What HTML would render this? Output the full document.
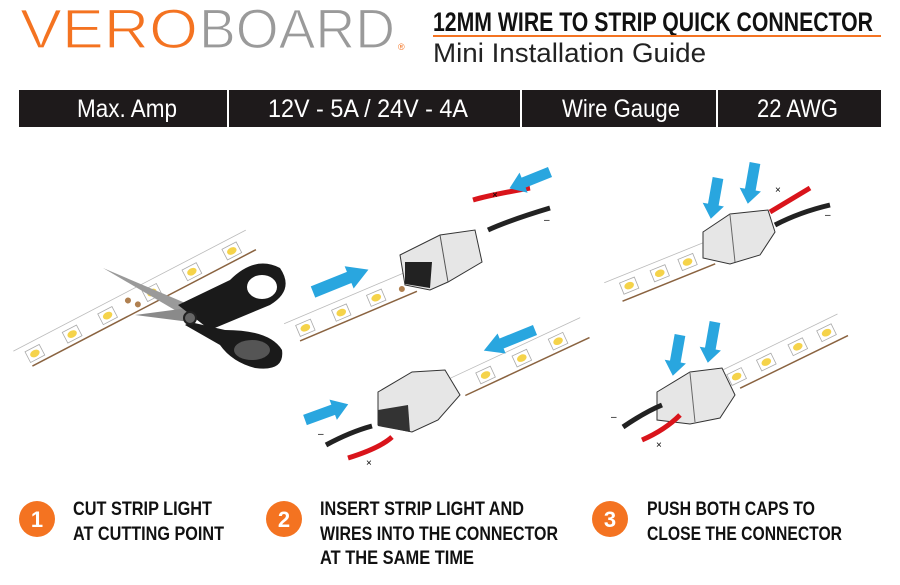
<!DOCTYPE html>
<html><head><meta charset="utf-8"><style>
html,body{margin:0;padding:0;background:#fff;}
svg{display:block}
.n{font-family:"Liberation Sans",sans-serif;}
</style></head><body>
<svg width="900" height="585" viewBox="0 0 900 585" xmlns="http://www.w3.org/2000/svg">
<defs>
<g id="led"><rect x="-8" y="-6" width="16" height="12" fill="#fff" stroke="#aaa" stroke-width="0.8"/><ellipse cx="0" cy="0" rx="5" ry="3.5" fill="#f5d34a"/></g>
<g id="arr"><polygon points="0,-6 30,-6 30,-12 46,0 30,12 30,6 0,6" fill="#29a6df"/></g>
</defs>
<!-- Logo -->
<text x="20" y="48" font-family="Liberation Sans,sans-serif" font-size="56" fill="#f47321" stroke="#fff" stroke-width="1.3" textLength="178" lengthAdjust="spacingAndGlyphs">VERO</text>
<text x="199" y="48" font-family="Liberation Sans,sans-serif" font-size="56" fill="#9a9a9a" stroke="#fff" stroke-width="1.3" textLength="196" lengthAdjust="spacingAndGlyphs">BOARD</text>
<text x="398" y="50" font-family="Liberation Sans,sans-serif" font-size="9" fill="#f47321">®</text>
<text class="n" x="433" y="31" font-size="27" font-weight="bold" fill="#111" textLength="440" lengthAdjust="spacingAndGlyphs">12MM WIRE TO STRIP QUICK CONNECTOR</text>
<rect x="433" y="35" width="448" height="2" fill="#f47321"/>
<text class="n" x="433" y="62" font-size="27" fill="#222" textLength="273" lengthAdjust="spacingAndGlyphs">Mini Installation Guide</text>
<!-- table -->
<rect x="19" y="90" width="862" height="37" fill="#1e1a1b"/>
<rect x="227" y="90" width="2" height="37" fill="#fff"/>
<rect x="520" y="90" width="2" height="37" fill="#fff"/>
<rect x="716" y="90" width="2" height="37" fill="#fff"/>
<g class="n" font-size="25" fill="#fff">
<text x="77" y="117" textLength="100" lengthAdjust="spacingAndGlyphs">Max. Amp</text>
<text x="268" y="117" textLength="200" lengthAdjust="spacingAndGlyphs">12V - 5A / 24V - 4A</text>
<text x="562" y="117" textLength="118" lengthAdjust="spacingAndGlyphs">Wire Gauge</text>
<text x="757" y="117" textLength="81" lengthAdjust="spacingAndGlyphs">22 AWG</text>
</g>
<!-- Step1 strip -->
<g transform="translate(18,360) rotate(-27.5)">
<rect x="0" y="-10" width="262" height="20" fill="#fff"/>
<line x1="0" y1="-10" x2="262" y2="-10" stroke="#bbb" stroke-width="0.8"/>
<line x1="10" y1="12" x2="262" y2="12" stroke="#8a6340" stroke-width="1.5"/>
<use href="#led" x="18" y="2"/><use href="#led" x="60" y="2"/><use href="#led" x="100" y="2"/><use href="#led" x="150" y="2"/><use href="#led" x="195" y="2"/><use href="#led" x="240" y="2"/>
<circle cx="125" cy="-2" r="3" fill="#b08050"/><circle cx="132" cy="6" r="3" fill="#b08050"/>
</g>
<!-- scissors -->
<polygon points="103,268 190,305 185,316" fill="#9a9a9a"/>
<polygon points="135,315 188,308 190,322" fill="#8a8a8a"/>
<path d="M178,305 L230,280 Q255,255 280,268 Q295,290 270,305 L210,330 Z" fill="#1a1a1a"/>
<ellipse cx="262" cy="287" rx="15" ry="12" fill="#fff"/>
<path d="M190,322 L225,330 Q270,330 282,350 Q285,372 255,368 Q232,362 220,345 L185,325 Z" fill="#1a1a1a"/>
<ellipse cx="252" cy="350" rx="18" ry="10" fill="#555"/>
<circle cx="190" cy="318" r="6" fill="#666" stroke="#222" stroke-width="2"/>
<!-- Step2 top -->
<g transform="translate(288,333) rotate(-23)">
<rect x="0" y="-10" width="135" height="20" fill="#fff"/>
<line x1="0" y1="-10" x2="135" y2="-10" stroke="#bbb" stroke-width="0.8"/>
<line x1="8" y1="12" x2="135" y2="12" stroke="#8a6340" stroke-width="1.5"/>
<use href="#led" x="18" y="2"/><use href="#led" x="57" y="2"/><use href="#led" x="95" y="2"/>
<circle cx="122" cy="4" r="3" fill="#b08050"/>
</g>
<use href="#arr" transform="translate(313,292) rotate(-22) scale(1.3,1)"/>
<polygon points="400,255 440,235 475,230 482,262 448,282 430,290 405,285" fill="#e6e6e6" stroke="#333" stroke-width="1"/>
<polygon points="405,262 432,262 430,288 405,284" fill="#222"/>
<line x1="440" y1="235" x2="448" y2="282" stroke="#555"/>
<path d="M473,200 Q490,195 530,188" stroke="#d9141b" stroke-width="5" fill="none"/>
<path d="M488,230 Q510,220 550,208" stroke="#222" stroke-width="5" fill="none"/>
<use href="#arr" transform="translate(550,172) rotate(158) scale(0.95,0.9)"/>
<text x="492" y="198" font-size="10" font-family="Liberation Sans,sans-serif">×</text>
<text x="544" y="223" font-size="10" font-family="Liberation Sans,sans-serif">–</text>
<!-- Step2 bottom -->
<g transform="translate(453,388) rotate(-25)">
<rect x="0" y="-10" width="145" height="20" fill="#fff"/>
<line x1="0" y1="-10" x2="145" y2="-10" stroke="#bbb" stroke-width="0.8"/>
<line x1="8" y1="12" x2="145" y2="12" stroke="#8a6340" stroke-width="1.5"/>
<use href="#led" x="35" y="2"/><use href="#led" x="75" y="2"/><use href="#led" x="115" y="2"/>
</g>
<use href="#arr" transform="translate(535,330) rotate(158) scale(1.2,0.9)"/>
<polygon points="378,392 412,372 445,370 460,395 438,420 412,432 378,425" fill="#e6e6e6" stroke="#333" stroke-width="1"/>
<polygon points="378,410 408,405 410,432 378,426" fill="#333"/>
<path d="M326,445 Q350,432 372,426" stroke="#222" stroke-width="5" fill="none"/>
<path d="M348,458 Q380,448 392,437" stroke="#d9141b" stroke-width="5" fill="none"/>
<use href="#arr" transform="translate(305,420) rotate(-20) scale(1,0.9)"/>
<text x="318" y="437" font-size="10" font-family="Liberation Sans,sans-serif">–</text>
<text x="366" y="466" font-size="10" font-family="Liberation Sans,sans-serif">×</text>
<!-- Step3 top -->
<g transform="translate(608,292) rotate(-22)">
<rect x="0" y="-10" width="110" height="22" fill="#fff"/>
<line x1="0" y1="-10" x2="110" y2="-10" stroke="#bbb" stroke-width="0.8"/>
<line x1="10" y1="14" x2="110" y2="14" stroke="#8a6340" stroke-width="1.5"/>
<use href="#led" x="22" y="2"/><use href="#led" x="55" y="2"/><use href="#led" x="85" y="2"/>
</g>
<polygon points="703,232 730,214 768,210 775,232 760,255 730,264 703,258" fill="#e6e6e6" stroke="#333" stroke-width="1"/>
<line x1="730" y1="215" x2="735" y2="262" stroke="#666"/>
<path d="M770,212 Q790,200 810,188" stroke="#d9141b" stroke-width="5" fill="none"/>
<path d="M775,225 Q800,212 830,205" stroke="#222" stroke-width="5" fill="none"/>
<use href="#arr" transform="translate(718,178) rotate(100) scale(0.9,0.9)"/>
<use href="#arr" transform="translate(755,163) rotate(100) scale(0.9,0.9)"/>
<text x="775" y="193" font-size="10" font-family="Liberation Sans,sans-serif">×</text>
<text x="825" y="218" font-size="10" font-family="Liberation Sans,sans-serif">–</text>
<!-- Step3 bottom -->
<g transform="translate(725,380) rotate(-26)">
<rect x="0" y="-10" width="130" height="22" fill="#fff"/>
<line x1="0" y1="-10" x2="130" y2="-10" stroke="#bbb" stroke-width="0.8"/>
<line x1="10" y1="14" x2="130" y2="14" stroke="#8a6340" stroke-width="1.5"/>
<use href="#led" x="12" y="2"/><use href="#led" x="45" y="2"/><use href="#led" x="80" y="2"/><use href="#led" x="112" y="2"/>
</g>
<polygon points="657,392 690,372 722,368 735,395 720,418 690,424 657,420" fill="#e6e6e6" stroke="#333" stroke-width="1"/>
<line x1="690" y1="373" x2="695" y2="422" stroke="#666"/>
<path d="M623,427 Q645,412 662,405" stroke="#222" stroke-width="5" fill="none"/>
<path d="M642,440 Q665,430 680,415" stroke="#d9141b" stroke-width="5" fill="none"/>
<use href="#arr" transform="translate(680,335) rotate(100) scale(0.9,0.9)"/>
<use href="#arr" transform="translate(715,322) rotate(100) scale(0.9,0.9)"/>
<text x="611" y="420" font-size="10" font-family="Liberation Sans,sans-serif">–</text>
<text x="656" y="448" font-size="10" font-family="Liberation Sans,sans-serif">×</text>
<!-- Steps -->
<g font-family="Liberation Sans,sans-serif" font-weight="bold" font-size="22" fill="#fff" text-anchor="middle">
<circle cx="37" cy="519" r="18" fill="#f47321"/><text x="37" y="527">1</text>
<circle cx="284" cy="519" r="18" fill="#f47321"/><text x="284" y="527">2</text>
<circle cx="610" cy="519" r="18" fill="#f47321"/><text x="610" y="527">3</text>
</g>
<g class="n" font-weight="bold" font-size="19" fill="#111">
<text x="73" y="515" textLength="139" lengthAdjust="spacingAndGlyphs">CUT STRIP LIGHT</text>
<text x="73" y="540" textLength="151" lengthAdjust="spacingAndGlyphs">AT CUTTING POINT</text>
<text x="320" y="515" textLength="204" lengthAdjust="spacingAndGlyphs">INSERT STRIP LIGHT AND</text>
<text x="320" y="540" textLength="238" lengthAdjust="spacingAndGlyphs">WIRES INTO THE CONNECTOR</text>
<text x="320" y="564" textLength="154" lengthAdjust="spacingAndGlyphs">AT THE SAME TIME</text>
<text x="647" y="515" textLength="168" lengthAdjust="spacingAndGlyphs">PUSH BOTH CAPS TO</text>
<text x="647" y="540" textLength="195" lengthAdjust="spacingAndGlyphs">CLOSE THE CONNECTOR</text>
</g>
</svg>
</body></html>
